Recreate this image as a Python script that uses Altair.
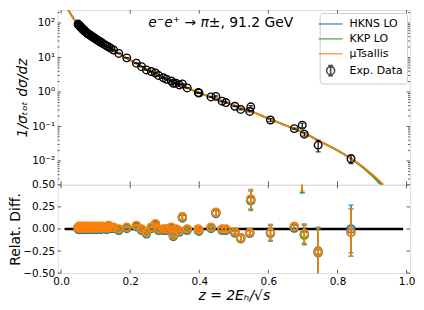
import altair as alt
import pandas as pd

# ---------------- data ----------------
curve_z = [0.015, 0.02, 0.03, 0.04, 0.05, 0.06, 0.075, 0.09, 0.1, 0.125, 0.15, 0.175, 0.2, 0.25,
           0.3, 0.35, 0.4, 0.45, 0.5, 0.55, 0.6, 0.65, 0.7, 0.75, 0.8, 0.85, 0.9, 0.93, 0.95]
hkns_vals = [326.0, 253.5, 168.0, 119.0, 90.3, 70.1, 50.8, 40.3, 34.4, 23.7, 16.8, 11.85, 8.42, 4.42,
             2.48, 1.53, 0.944, 0.624, 0.411, 0.277, 0.171, 0.107, 0.0662, 0.0366, 0.0201, 0.0100,
             0.00395, 0.00198, 0.00112]
kkp_vals = [325.0, 252.0, 166.8, 118.0, 89.5, 69.5, 50.3, 40.0, 34.0, 23.5, 16.65, 11.75, 8.35, 4.38,
            2.46, 1.515, 0.936, 0.619, 0.408, 0.276, 0.171, 0.108, 0.0670, 0.0372, 0.0203, 0.0098,
            0.00375, 0.00180, 0.00100]
tsallis_vals = [323.6, 251.2, 166.0, 117.5, 89.1, 69.2, 50.1, 39.8, 33.9, 23.4, 16.6, 11.7, 8.32, 4.37,
                2.45, 1.51, 0.933, 0.617, 0.407, 0.275, 0.170, 0.107, 0.0661, 0.0363, 0.0200, 0.0102,
                0.00417, 0.00219, 0.00126]

exp_z = [0.049, 0.0505, 0.052, 0.0535, 0.055, 0.0565, 0.058, 0.061, 0.0625, 0.064,
         0.067, 0.0685, 0.070, 0.073, 0.076, 0.078, 0.080, 0.084, 0.086, 0.088,
         0.092, 0.094, 0.096, 0.100, 0.103, 0.105, 0.110, 0.113, 0.115, 0.120,
         0.126, 0.132, 0.138, 0.144,
         0.152, 0.167, 0.190, 0.218, 0.233, 0.247, 0.261, 0.273, 0.282, 0.296,
         0.305, 0.319, 0.325, 0.333, 0.342, 0.351, 0.365, 0.397, 0.399, 0.434,
         0.448, 0.466, 0.477, 0.503, 0.520, 0.546, 0.549, 0.606, 0.675, 0.698,
         0.704, 0.744, 0.839]
exp_val = [93.1, 89.7, 86.3, 83.1, 80.0, 77.1, 74.1, 69.0, 66.8, 64.7,
           60.7, 58.7, 56.9, 53.3, 50.2, 48.8, 47.3, 44.5, 43.2, 41.8,
           39.3, 38.0, 36.8, 34.5, 33.0, 32.1, 29.8, 28.5, 27.7, 25.7,
           23.6, 21.7, 20.0, 18.4,
           16.5, 13.1, 9.75, 6.86, 5.43, 4.36, 3.93, 3.55, 3.02, 2.57,
           2.34, 2.08, 1.79, 1.78, 1.60, 1.71, 1.31, 0.962, 0.933, 0.719,
           0.746, 0.540, 0.493, 0.386, 0.313, 0.273, 0.372, 0.154, 0.0867, 0.109,
           0.0598, 0.0288, 0.0116]
exp_err = [1.9, 1.8, 1.7, 1.7, 1.6, 1.5, 1.5, 1.4, 1.3, 1.3,
           1.2, 1.2, 1.1, 1.1, 1.0, 1.0, 0.9, 0.9, 0.9, 0.8,
           0.8, 0.8, 0.7, 0.7, 0.7, 0.6, 0.6, 0.6, 0.6, 0.5,
           0.5, 0.4, 0.4, 0.4,
           0.33, 0.26, 0.2, 0.14, 0.11, 0.09, 0.08, 0.07, 0.06, 0.05,
           0.05, 0.04, 0.04, 0.04, 0.03, 0.05, 0.03, 0.02, 0.02, 0.02,
           0.03, 0.015, 0.015, 0.012, 0.012, 0.009, 0.03, 0.015, 0.0035, 0.016,
           0.007, 0.0105, 0.0032]

res_hkns = [0.005, -0.005, 0.015, 0.005, -0.005, 0.015, 0.005, 0.005, -0.005, 0.015,
            0.005, -0.005, 0.015, 0.005, 0.005, -0.005, 0.015, 0.005, -0.005, 0.005,
            0.015, -0.005, 0.005, 0.015, -0.005, 0.005, 0.015, 0.005, -0.005, 0.015,
            0.005, -0.005, 0.025, 0.005,
            0.005, -0.015, 0.005, 0.025, -0.015, -0.055, 0.005, 0.045, -0.015, -0.015,
            -0.015, 0.005, -0.085, -0.015, -0.035, 0.125, -0.015, -0.015, -0.025, 0.005,
            0.175, -0.015, -0.015, -0.045, -0.11, -0.05, 0.32, -0.05, 0.01, 0.60,
            -0.06, -0.25, 0.0]
res_kkp = [0.015, 0.005, 0.025, 0.015, 0.005, 0.025, 0.015, 0.015, 0.005, 0.025,
           0.015, 0.005, 0.025, 0.015, 0.015, 0.005, 0.025, 0.015, 0.005, 0.015,
           0.025, 0.005, 0.015, 0.025, 0.005, 0.015, 0.025, 0.015, 0.005, 0.025,
           0.015, 0.005, 0.035, 0.015,
           0.015, -0.005, 0.015, 0.035, -0.005, -0.045, 0.015, 0.055, -0.005, -0.005,
           -0.005, 0.015, -0.075, -0.005, -0.025, 0.135, -0.005, -0.005, -0.015, 0.015,
           0.185, -0.005, -0.005, -0.035, -0.10, -0.04, 0.33, -0.04, 0.02, 0.60,
           -0.07, -0.27, -0.04]
res_tsallis = [0.02, 0.01, 0.03, 0.02, 0.01, 0.03, 0.02, 0.02, 0.01, 0.03,
               0.02, 0.01, 0.03, 0.02, 0.02, 0.01, 0.03, 0.02, 0.01, 0.02,
               0.03, 0.01, 0.02, 0.03, 0.01, 0.02, 0.03, 0.02, 0.01, 0.03,
               0.02, 0.01, 0.04, 0.02,
               0.02, 0.0, 0.02, 0.04, 0.0, -0.04, 0.02, 0.06, 0.0, 0.0,
               0.0, 0.02, -0.07, 0.0, -0.02, 0.14, 0.0, 0.0, -0.01, 0.02,
               0.19, 0.0, 0.0, -0.03, -0.10, -0.04, 0.34, -0.04, 0.03, 0.62,
               -0.05, -0.26, -0.04]
res_err = [0.01] * 34 + [
    0.01, 0.01, 0.01, 0.01, 0.01, 0.01, 0.01, 0.01, 0.01, 0.01,
    0.01, 0.01, 0.015, 0.01, 0.01, 0.03, 0.01, 0.01, 0.01, 0.02,
    0.04, 0.02, 0.02, 0.02, 0.04, 0.03, 0.11, 0.09, 0.04, 0.19,
    0.11, 0.27, 0.27]

series_names = ["HKNS LO", "KKP LO", "μTsallis", "Exp. Data"]
series_colors = ["#1f77b4", "#2ca02c", "#ff7f0e", "#000000"]
title_parts = ["e⁻e⁺ → π±", ", 91.2 GeV"]

x_ticks = [0.0, 0.2, 0.4, 0.6, 0.8, 1.0]
y_major = [0.01, 0.1, 1, 10, 100]
y_minor = [0.003, 0.004, 0.005, 0.006, 0.007, 0.008, 0.009,
           0.02, 0.03, 0.04, 0.05, 0.06, 0.07, 0.08, 0.09,
           0.2, 0.3, 0.4, 0.5, 0.6, 0.7, 0.8, 0.9,
           2, 3, 4, 5, 6, 7, 8, 9,
           20, 30, 40, 50, 60, 70, 80, 90, 200]
res_ticks = [-0.5, -0.25, 0.0, 0.25, 0.5]
zero_span = [0.01, 0.99]

# ---------------- styling ----------------
W, H_TOP, H_BOT = 355, 176, 89
FONT = "DejaVu Sans"
TICK = "#333333"
LINE_PATH = "M-2,0L2,0"
PHI_PATH = ("M-0.67,0A0.67,0.67,0,1,0,0.67,0A0.67,0.67,0,1,0,-0.67,0"
            "M0,-0.85L0,0.85M-0.4,-0.85L0.4,-0.85M-0.4,0.85L0.4,0.85")

xscale = alt.Scale(domain=[-0.01, 1.01], nice=False, zero=False)
ytop_scale = alt.Scale(type="log", domain=[0.00204, 236.7], nice=False)
ybot_scale = alt.Scale(domain=[-0.5, 0.5], nice=False, zero=False)

LABEL_EXPR = ("datum.value >= 50 ? '10²' : datum.value >= 5 ? '10¹' : "
              "datum.value >= 0.5 ? '10⁰' : datum.value >= 0.05 ? '10⁻¹' : '10⁻²'")

common_axis = dict(ticks=False, tickSize=0, domain=False, grid=False, labelFontSize=10.5,
                   titleFontSize=14, titleFontWeight="normal", labelColor="black",
                   titleColor="black", labelFont=FONT, titleFont=FONT)

y_top_axis = alt.Axis(values=y_major, labelExpr=LABEL_EXPR, title="1/σₜₒₜ dσ/dz",
                      titleFontStyle="italic", labelPadding=3, minExtent=22, maxExtent=22,
                      titlePadding=6, **common_axis)
y_bot_axis = alt.Axis(values=res_ticks, format=".2f", title="Relat. Diff.", labelPadding=3,
                      minExtent=33, maxExtent=33, titlePadding=2, **common_axis)
x_bot_axis = alt.Axis(values=x_ticks, format=".1f", title="z = 2Eₕ/√s", titleFontStyle="italic",
                      labelPadding=3, titlePadding=2, **common_axis)

X_top = lambda f: alt.X(f, scale=xscale, axis=None)
X_bot = lambda f: alt.X(f, scale=xscale, axis=x_bot_axis)
Y_top = lambda f: alt.Y(f, scale=ytop_scale, axis=y_top_axis)
Y_bot = lambda f: alt.Y(f, scale=ybot_scale, axis=y_bot_axis)

# ---------------- top panel ----------------
top_layers = []
for vals, col in [(hkns_vals, series_colors[0]), (kkp_vals, series_colors[1]),
                  (tsallis_vals, series_colors[2])]:
    df = pd.DataFrame({"z": curve_z, "v": vals})
    top_layers.append(alt.Chart(df).mark_line(color=col, strokeWidth=1.8, clip=True,
                                              interpolate="monotone")
                      .encode(x=X_top("z:Q"), y=Y_top("v:Q")))

exp_df = pd.DataFrame({"z": exp_z, "v": exp_val, "e": exp_err})
exp_df["lo"] = exp_df["v"] - exp_df["e"]
exp_df["hi"] = exp_df["v"] + exp_df["e"]
eb = alt.Chart(exp_df)
top_layers += [
    eb.mark_rule(color="black", strokeWidth=1.2, clip=True).encode(
        x=X_top("z:Q"), y=Y_top("lo:Q"), y2="hi:Q"),
    eb.mark_tick(color="black", orient="horizontal", size=5, thickness=1.2, clip=True).encode(
        x=X_top("z:Q"), y=Y_top("lo:Q")),
    eb.mark_tick(color="black", orient="horizontal", size=5, thickness=1.2, clip=True).encode(
        x=X_top("z:Q"), y=Y_top("hi:Q")),
    eb.mark_point(shape="circle", filled=False, color="black", size=58, strokeWidth=1.4,
                  opacity=1, clip=True).encode(x=X_top("z:Q"), y=Y_top("v:Q")),
]

legend = alt.Legend(title=None, orient="top-right", offset=3, fillColor="white",
                    strokeColor="#cccccc", cornerRadius=3, padding=4, labelFontSize=11,
                    labelFont=FONT, labelColor="black", symbolSize=144, symbolStrokeWidth=1.6,
                    rowPadding=3, labelOffset=12)
top_layers.append(
    alt.Chart(pd.DataFrame({"series": series_names})).mark_point(filled=False, clip=True)
    .encode(x=alt.value(-20), y=alt.value(60),
            color=alt.Color("series:N", scale=alt.Scale(domain=series_names, range=series_colors),
                            legend=legend),
            shape=alt.Shape("series:N", scale=alt.Scale(domain=series_names,
                                                        range=[LINE_PATH, LINE_PATH, LINE_PATH, PHI_PATH]),
                            legend=legend)))

ymaj_df = pd.DataFrame({"v": y_major})
ymin_df = pd.DataFrame({"v": y_minor})
xt_df = pd.DataFrame({"v": x_ticks})
for d, ln in [(ymaj_df, 3.5), (ymin_df, 2)]:
    top_layers.append(alt.Chart(d).mark_rule(color=TICK, strokeWidth=0.8).encode(
        y=Y_top("v:Q"), x=alt.value(0), x2=alt.value(ln)))
    top_layers.append(alt.Chart(d).mark_rule(color=TICK, strokeWidth=0.8).encode(
        y=Y_top("v:Q"), x=alt.value(W), x2=alt.value(W - ln)))
top_layers.append(alt.Chart(xt_df).mark_rule(color=TICK, strokeWidth=0.8).encode(
    x=X_top("v:Q"), y=alt.value(0), y2=alt.value(3.5)))
top_layers.append(alt.Chart(xt_df).mark_rule(color=TICK, strokeWidth=0.8).encode(
    x=X_top("v:Q"), y=alt.value(H_TOP), y2=alt.value(H_TOP - 3.5)))

tdf = pd.DataFrame({"t": title_parts, "k": [0, 1]})
top_layers.append(alt.Chart(tdf).transform_filter("datum.k == 0").mark_text(
    align="right", baseline="alphabetic", fontSize=14, fontStyle="italic", font=FONT,
    color="black").encode(text="t:N", x=alt.value(164), y=alt.value(17)))
top_layers.append(alt.Chart(tdf).transform_filter("datum.k == 1").mark_text(
    align="left", baseline="alphabetic", fontSize=14, font=FONT,
    color="black").encode(text="t:N", x=alt.value(164), y=alt.value(17)))

top = alt.layer(*top_layers).properties(width=W, height=H_TOP)

# ---------------- bottom panel ----------------
bot_layers = []
zdf = pd.DataFrame({"x": [zero_span[0]], "x2": [zero_span[1]], "y": [0.0]})
bot_layers.append(alt.Chart(zdf).mark_rule(color="black", strokeWidth=2.5).encode(
    x=X_bot("x:Q"), x2="x2:Q", y=Y_bot("y:Q")))

for res, col in [(res_hkns, series_colors[0]), (res_kkp, series_colors[1]),
                 (res_tsallis, series_colors[2])]:
    df = pd.DataFrame({"z": exp_z, "r": res, "e": res_err})
    df["lo"] = df["r"] - df["e"]
    df["hi"] = df["r"] + df["e"]
    b = alt.Chart(df)
    bot_layers += [
        b.mark_rule(color=col, strokeWidth=1.5, clip=True).encode(
            x=X_bot("z:Q"), y=Y_bot("lo:Q"), y2="hi:Q"),
        b.mark_tick(color=col, orient="horizontal", size=5, thickness=1.5, clip=True).encode(
            x=X_bot("z:Q"), y=Y_bot("lo:Q")),
        b.mark_tick(color=col, orient="horizontal", size=5, thickness=1.5, clip=True).encode(
            x=X_bot("z:Q"), y=Y_bot("hi:Q")),
        b.mark_point(shape="circle", filled=False, color=col, size=58, strokeWidth=1.9,
                     opacity=1, clip=True).encode(x=X_bot("z:Q"), y=Y_bot("r:Q")),
    ]

rt_df = pd.DataFrame({"v": res_ticks})
bot_layers.append(alt.Chart(rt_df).mark_rule(color=TICK, strokeWidth=0.8).encode(
    y=Y_bot("v:Q"), x=alt.value(0), x2=alt.value(3.5)))
bot_layers.append(alt.Chart(rt_df).mark_rule(color=TICK, strokeWidth=0.8).encode(
    y=Y_bot("v:Q"), x=alt.value(W), x2=alt.value(W - 3.5)))
bot_layers.append(alt.Chart(xt_df).mark_rule(color=TICK, strokeWidth=0.8).encode(
    x=X_bot("v:Q"), y=alt.value(0), y2=alt.value(3.5)))
bot_layers.append(alt.Chart(xt_df).mark_rule(color=TICK, strokeWidth=0.8).encode(
    x=X_bot("v:Q"), y=alt.value(H_BOT), y2=alt.value(H_BOT - 3.5)))

bottom = alt.layer(*bot_layers).properties(width=W, height=H_BOT)

chart = (alt.vconcat(top, bottom, spacing=0, bounds="flush")
         .resolve_scale(color="independent", shape="independent")
         .resolve_legend(color="independent", shape="independent")
         .properties(padding={"left": 0, "top": 0, "right": 0, "bottom": 0})
         .configure_view(stroke="#444444", strokeWidth=1)
         .configure(font=FONT))

chart.save("out.html", embed_options={"renderer": "svg", "actions": False})
